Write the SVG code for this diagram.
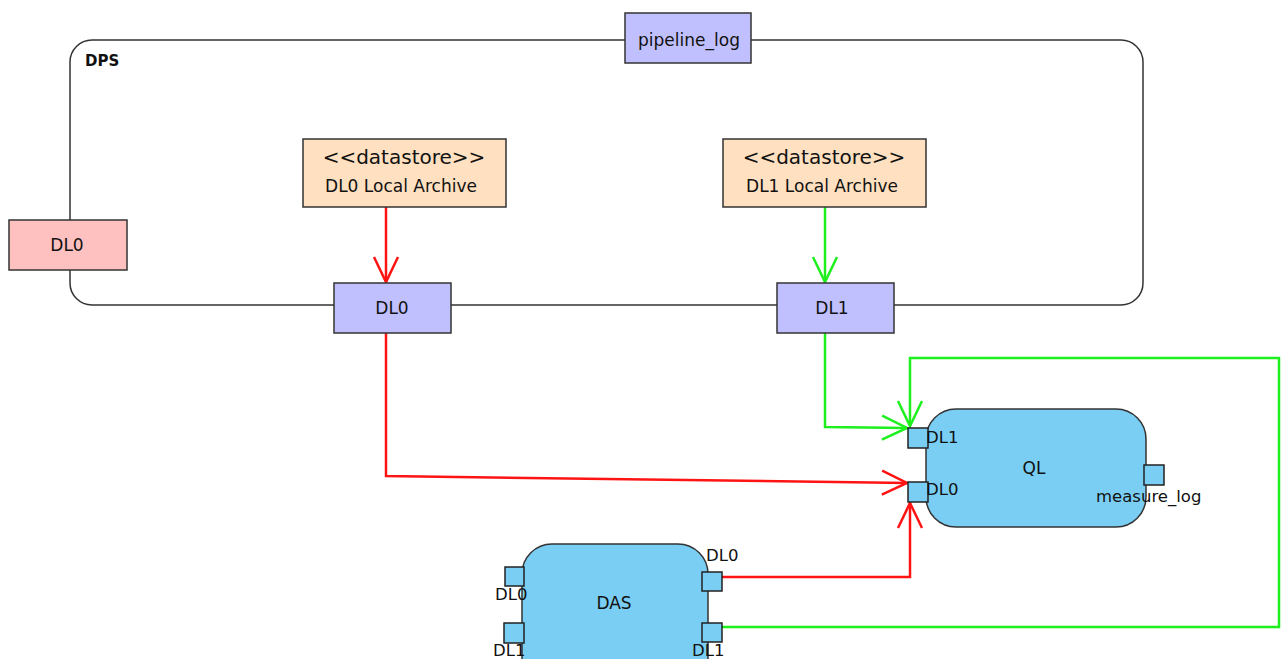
<svg xmlns="http://www.w3.org/2000/svg" width="1281" height="659" viewBox="0 0 1281 659">
<style>
text{font-family:"DejaVu Sans","Liberation Sans",sans-serif;fill:#111;}
.lbl{font-size:17px;text-anchor:middle;}
.plbl{font-size:16.5px;}
.st{font-size:20px;text-anchor:middle;}
.box{stroke:#333;stroke-width:1.5;}
.port{fill:#c0c0ff;}
.ds{fill:#ffe0c0;}
.comp{fill:#7acef4;stroke:#333;stroke-width:1.5;}
.pt{fill:#7acef4;stroke:#222;stroke-width:1.5;}
.red{fill:none;stroke:#ff1414;stroke-width:2.5;}
.grn{fill:none;stroke:#1ef01e;stroke-width:2.5;}
</style>
<defs>
<marker id="ar" markerUnits="userSpaceOnUse" markerWidth="30" markerHeight="30" viewBox="-27 -15 30 30" refX="0" refY="0" orient="auto"><path d="M-25,-12 L0,0 L-25,12" fill="none" stroke="#ff1414" stroke-width="2.5"/></marker>
<marker id="ag" markerUnits="userSpaceOnUse" markerWidth="30" markerHeight="30" viewBox="-27 -15 30 30" refX="0" refY="0" orient="auto"><path d="M-25,-12 L0,0 L-25,12" fill="none" stroke="#1ef01e" stroke-width="2.5"/></marker>
</defs>
<rect width="1281" height="659" fill="#fff"/>
<g id="DPS">
<rect x="70" y="40" width="1073" height="265" rx="22" fill="none" stroke="#333" stroke-width="1.5"/>
<text x="85" y="66" style="font-size:15px;font-weight:bold">DPS</text>
</g>
<g id="connectors">
<path class="red" d="M386,207 L386,282" marker-end="url(#ar)"/>
<path class="grn" d="M825,207 L825,282" marker-end="url(#ag)"/>
<path class="red" d="M386,333 L386,476 L907,483" marker-end="url(#ar)"/>
<path class="grn" d="M825,333 L825,427 L907,428" marker-end="url(#ag)"/>
<path class="grn" d="M722,627 L1279,627 L1279,358 L910,358 L910,426" marker-end="url(#ag)"/>
<path class="red" d="M722,577 L910,577 L910,503" marker-end="url(#ar)"/>
</g>
<g id="pipeline_log">
<rect class="box port" x="625" y="13" width="126" height="50"/>
<text class="lbl" x="689" y="46">pipeline_log</text>
</g>
<g id="DL0_ext">
<rect class="box" fill="#ffc0c0" x="9" y="220" width="118" height="50"/>
<text class="lbl" x="67" y="251">DL0</text>
</g>
<g id="DL0_archive">
<rect class="box ds" x="303" y="139" width="203" height="68"/>
<text class="st" x="404" y="164">&lt;&lt;datastore&gt;&gt;</text>
<text class="lbl" x="401" y="192">DL0 Local Archive</text>
</g>
<g id="DL1_archive">
<rect class="box ds" x="723" y="139" width="203" height="68"/>
<text class="st" x="824" y="164">&lt;&lt;datastore&gt;&gt;</text>
<text class="lbl" x="822" y="192">DL1 Local Archive</text>
</g>
<g id="DL0_port">
<rect class="box port" x="334" y="283" width="117" height="50"/>
<text class="lbl" x="392" y="314">DL0</text>
</g>
<g id="DL1_port">
<rect class="box port" x="777" y="283" width="117" height="50"/>
<text class="lbl" x="832" y="314">DL1</text>
</g>
<g id="QL">
<rect class="comp" x="926" y="409" width="220" height="118" rx="30"/>
<text class="lbl" x="1034" y="474">QL</text>
<rect class="pt" x="908" y="428" width="20" height="20"/>
<rect class="pt" x="908" y="482" width="20" height="20"/>
<rect class="pt" x="1144" y="465" width="20" height="20"/>
<text class="plbl" x="926" y="443">DL1</text>
<text class="plbl" x="926" y="495">DL0</text>
<text class="plbl" x="1096" y="502">measure_log</text>
</g>
<g id="DAS">
<rect class="comp" x="522" y="544" width="186" height="150" rx="30"/>
<text class="lbl" x="614" y="609">DAS</text>
<rect class="pt" x="505" y="567" width="19" height="19"/>
<rect class="pt" x="504" y="623" width="20" height="20"/>
<rect class="pt" x="702" y="572" width="20" height="19"/>
<rect class="pt" x="702" y="623" width="20" height="19"/>
<text class="plbl" x="706" y="561">DL0</text>
<text class="plbl" x="495" y="600">DL0</text>
<text class="plbl" x="493" y="656">DL1</text>
<text class="plbl" x="692" y="656">DL1</text>
</g>
</svg>
